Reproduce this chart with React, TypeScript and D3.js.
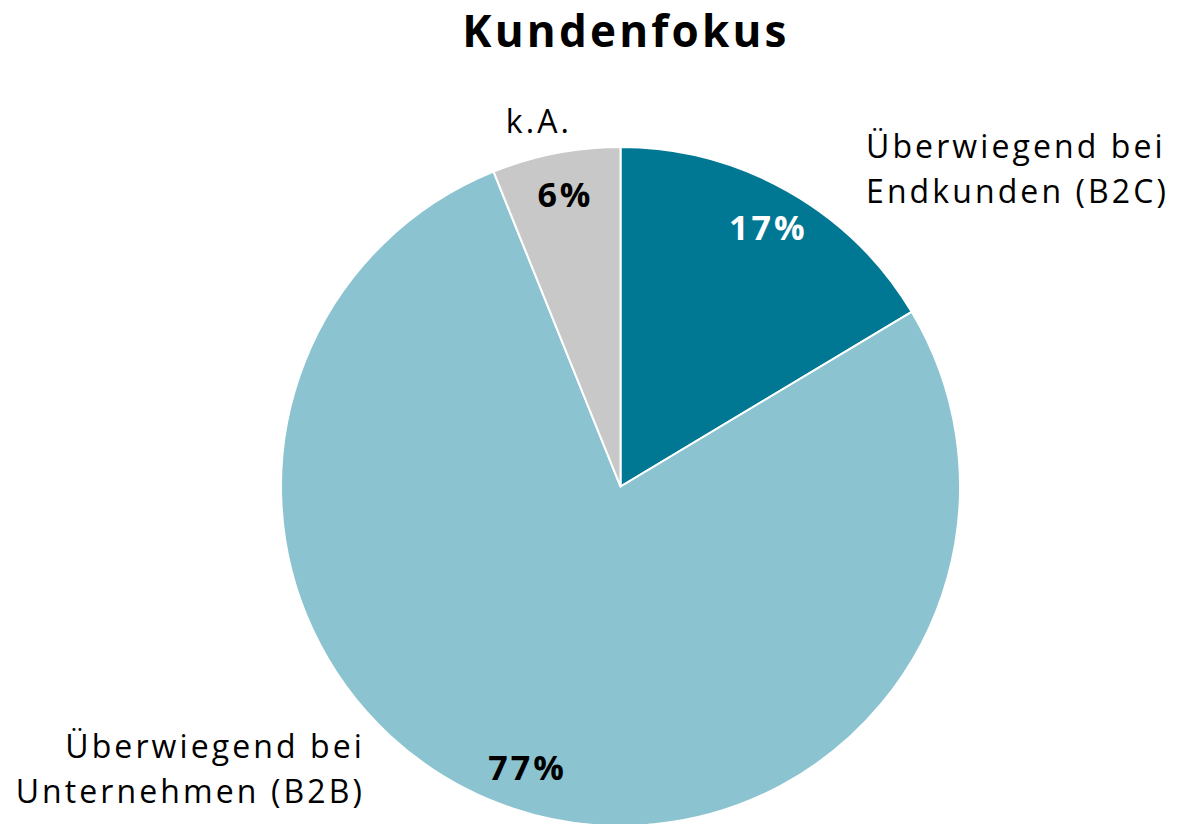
import React from "react";
import * as d3 from "d3";

const categories = ["Überwiegend bei Endkunden (B2C)", "Überwiegend bei Unternehmen (B2B)", "k.A."];
const values = [16.4, 77.5, 6.1];
const pctLabels = ["17%", "77%", "6%"];
const colors = ["#007893", "#8CC3D0", "#C8C8C8"];
const pctColors = ["#ffffff", "#000000", "#000000"];

const W = 1178;
const H = 824;
const cx = 620.5;
const cy = 486.5;
const R = 339.5;
const FONT = "'Open Sans', 'DejaVu Sans', sans-serif";

export default function App() {
  const pie = d3.pie<number>().sort(null).value((d) => d)(values);
  const arc = d3.arc<d3.PieArcDatum<number>>().innerRadius(0).outerRadius(R);
  const labelArc = d3.arc<d3.PieArcDatum<number>>().innerRadius(297 * 2 - R).outerRadius(R);

  const outer = [
    { lines: ["Überwiegend bei", "Endkunden (B2C)"], x: 866, y: 158, anchor: "start" },
    { lines: ["Überwiegend bei", "Unternehmen (B2B)"], x: 365, y: 758, anchor: "end" },
    { lines: ["k.A."], x: 539, y: 133, anchor: "middle" },
  ];

  return (
    <svg width={W} height={H} style={{ position: "absolute", left: 0, top: 0, display: "block" }}>
      <rect width={W} height={H} fill="#ffffff" />
      <text
        x={626}
        y={47}
        textAnchor="middle"
        fontFamily={FONT}
        fontWeight="bold"
        fontSize={44}
        letterSpacing={3.2}
        fill="#000"
      >
        Kundenfokus
      </text>
      <g transform={`translate(${cx},${cy})`}>
        {pie.map((p, i) => (
          <path key={categories[i]} d={arc(p) || ""} fill={colors[i]} stroke="#ffffff" strokeWidth={2} />
        ))}
        {pie.map((p, i) => {
          const [x, y] = labelArc.centroid(p);
          return (
            <text
              key={"p" + i}
              x={x + 1.5}
              y={y}
              dy="0.36em"
              textAnchor="middle"
              fontFamily={FONT}
              fontWeight="bold"
              fontSize={34}
              letterSpacing={3}
              fill={pctColors[i]}
            >
              {pctLabels[i]}
            </text>
          );
        })}
      </g>
      {outer.map((o, i) => (
        <text
          key={"o" + i}
          x={o.x}
          y={o.y}
          textAnchor={o.anchor as any}
          fontFamily={FONT}
          fontSize={32}
          letterSpacing={3.1}
          fill="#000"
        >
          {o.lines.map((l, j) => (
            <tspan key={j} x={o.x} dy={j === 0 ? 0 : 45}>
              {l}
            </tspan>
          ))}
        </text>
      ))}
    </svg>
  );
}
